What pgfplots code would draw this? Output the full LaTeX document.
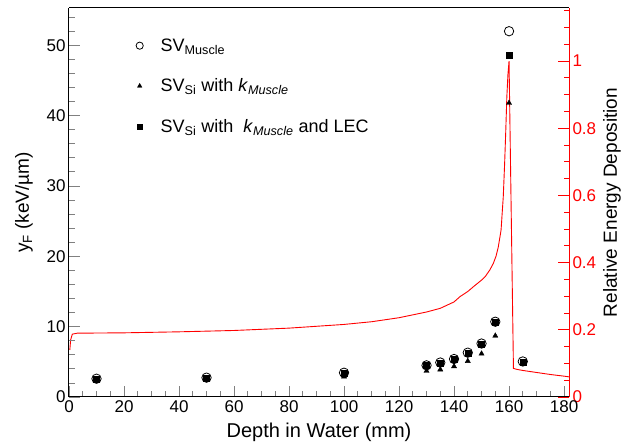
\documentclass[border=0pt]{standalone}
\usepackage{fontspec}
\setmainfont{Liberation Sans}
\usepackage{pgfplots}
\pgfplotsset{compat=1.18}
\begin{document}
\begin{tikzpicture}
\pgfplotsset{
  common/.style={
    scale only axis, width=500pt, height=389pt,
    xmin=0, xmax=181.8,
    /pgf/number format/assume math mode=true,
    tick label style={font=\fontsize{17}{20}\selectfont},
    label style={font=\fontsize{19}{22}\selectfont},
    major tick length=11pt, minor tick length=5.5pt,
    tick align=inside,
    axis line style={line width=1pt},
    every tick/.append style={line width=0.8pt},
  }
}
% relative energy deposition (right axis)
\begin{axis}[common,
  axis x line*=top, xtick=\empty,
  axis y line*=right,
  ymin=0, ymax=1.158,
  ytick={0,0.2,0.4,0.6,0.8,1},
  minor ytick={0.05,0.1,0.15,0.25,0.3,0.35,0.45,0.5,0.55,0.65,0.7,0.75,0.85,0.9,0.95,1.05,1.1,1.15},
  y axis line style={red},
  every major y tick/.append style={red},
  every minor y tick/.append style={red},
  yticklabel style={red},
  ylabel={Relative Energy Deposition},
  ylabel style={at={(axis description cs:1.086,0.5)}, anchor=center, black},
]
\addplot[red, line width=0.9pt, no marks] coordinates {
  (0.3,0.14) (0.6,0.17) (1.2,0.187) (3,0.19) (20,0.191) (40,0.194) (60,0.198)
  (80,0.205) (100,0.216) (110,0.224) (120,0.236) (130,0.253) (135,0.264)
  (140,0.283) (142.2,0.299) (145,0.314) (147,0.328) (150,0.348) (151.3,0.358)
  (153,0.378) (154.3,0.398) (155.3,0.42) (156.1,0.447) (157.1,0.497)
  (157.9,0.596) (158.4,0.696) (158.8,0.79) (159.2,0.894) (159.6,0.96)
  (160,1.0) (161.6,0.085) (163,0.082) (165,0.079) (170,0.073) (175,0.067)
  (180,0.062) (181.8,0.06)
};
\end{axis}
% lineal energy (left axis)
\begin{axis}[common, name=main,
  axis x line*=bottom, axis y line*=left,
  ymin=0, ymax=55.3,
  xtick={0,20,...,180},
  minor xtick={0,5,...,180},
  ytick={0,10,...,50},
  minor ytick={0,2,...,54},
  xlabel={Depth in Water (mm)},
  ylabel={y\textsubscript{F} (keV/µm)},
  xlabel style={at={(axis description cs:0.5,-0.1054)}, anchor=base, font=\fontsize{20}{23}\selectfont},
  ylabel style={at={(axis description cs:-0.09,0.5)}, anchor=center},
  legend style={draw=none, fill=none, at={(axis description cs:0.127,0.932)},
    anchor=north west, row sep=22pt, font=\fontsize{18}{21}\selectfont},
  legend cell align=left,
]
\addplot[only marks, mark=o, mark size=4.7, black, mark options={line width=0.8pt},
  legend image code/.code={\path[draw=none, fill=none] (-4pt,-1pt) rectangle (19pt,1pt);
    \draw[mark size=3.6] plot coordinates {(0pt,0pt)};}]
  coordinates {
  (10,2.6) (50,2.75) (100,3.45) (130,4.5) (135,4.9) (140,5.4) (145,6.3)
  (150,7.6) (155,10.7) (160,52.0) (165,5.05)
};
\addlegendentry{SV\textsubscript{Muscle}}
\addplot[only marks, mark=triangle*, mark size=3, black,
  legend image code/.code={\path[draw=none, fill=none] (-4pt,-1pt) rectangle (19pt,1pt);
    \draw[mark size=2.6] plot coordinates {(0pt,0pt)};}]
  coordinates {
  (10,2.3) (50,2.5) (100,2.9) (130,3.7) (135,3.9) (140,4.35) (145,5.1)
  (150,6.15) (155,8.7) (160,41.8) (165,4.8)
};
\addlegendentry{SV\textsubscript{Si} with \textit{k}\textsubscript{\textit{Muscle}}}
\addplot[only marks, mark=square*, mark size=3, black,
  legend image code/.code={\path[draw=none, fill=none] (-4pt,-1pt) rectangle (19pt,1pt);
    \draw[mark size=2.6] plot coordinates {(0pt,0pt)};}]
  coordinates {
  (10,2.5) (50,2.65) (100,3.35) (130,4.45) (135,4.85) (140,5.35) (145,6.25)
  (150,7.55) (155,10.65) (160,48.6) (165,5.0)
};
\addlegendentry{SV\textsubscript{Si} with \ \textit{k}\textsubscript{\textit{Muscle}} and LEC}
\end{axis}
\pgfresetboundingbox
\path[use as bounding box] ([xshift=-69pt,yshift=-46pt]main.south west) rectangle ([xshift=53pt,yshift=8pt]main.north east);
\end{tikzpicture}
\end{document}
